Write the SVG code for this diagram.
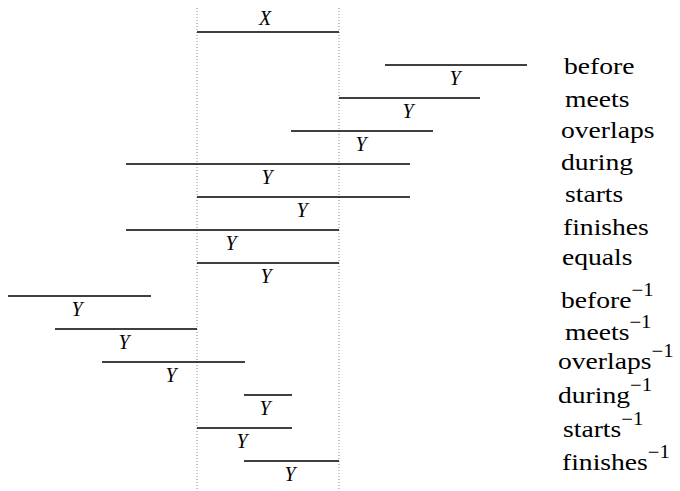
<svg xmlns="http://www.w3.org/2000/svg" width="680" height="491" viewBox="0 0 680 491">
<style>
.guide{stroke:#888;stroke-width:1;stroke-dasharray:1 2;fill:none}
.bar{stroke:#000;stroke-width:1.3;fill:none}
.v{font-family:"Liberation Serif",serif;font-style:italic;font-size:20px;fill:#000;text-anchor:middle}
.lab{font-family:"Liberation Serif",serif;font-size:24px;fill:#000}
.sup{font-size:18px}
</style>
<rect width="680" height="491" fill="#fff"/>
<g id="guides">
<line class="guide" x1="197" y1="8" x2="197" y2="491"/>
<line class="guide" x1="339" y1="8" x2="339" y2="491"/>
</g>
<g id="X"><line class="bar" x1="197" y1="32" x2="339" y2="32"/><text class="v" x="265" y="25">X</text></g>
<g id="before"><line class="bar" x1="385" y1="65" x2="527" y2="65"/><text class="v" x="455" y="85">Y</text><text class="lab" transform="translate(564,74) scale(1.15,1)">before</text></g>
<g id="meets"><line class="bar" x1="339" y1="98" x2="480" y2="98"/><text class="v" x="408" y="118">Y</text><text class="lab" transform="translate(565,107) scale(1.15,1)">meets</text></g>
<g id="overlaps"><line class="bar" x1="291" y1="131" x2="433" y2="131"/><text class="v" x="361" y="151">Y</text><text class="lab" transform="translate(561,138) scale(1.15,1)">overlaps</text></g>
<g id="during"><line class="bar" x1="126" y1="164" x2="410" y2="164"/><text class="v" x="267" y="184">Y</text><text class="lab" transform="translate(561,170) scale(1.15,1)">during</text></g>
<g id="starts"><line class="bar" x1="197" y1="197" x2="410" y2="197"/><text class="v" x="302" y="217">Y</text><text class="lab" transform="translate(565,202) scale(1.15,1)">starts</text></g>
<g id="finishes"><line class="bar" x1="126" y1="230" x2="339" y2="230"/><text class="v" x="231" y="250">Y</text><text class="lab" transform="translate(563,235) scale(1.15,1)">finishes</text></g>
<g id="equals"><line class="bar" x1="197" y1="263" x2="339" y2="263"/><text class="v" x="266" y="283">Y</text><text class="lab" transform="translate(562,265) scale(1.15,1)">equals</text></g>
<g id="before-inv"><line class="bar" x1="8" y1="296" x2="151" y2="296"/><text class="v" x="77" y="316">Y</text><text class="lab" transform="translate(561,308) scale(1.15,1)">before<tspan class="sup" dy="-12">−1</tspan></text></g>
<g id="meets-inv"><line class="bar" x1="55" y1="329" x2="197" y2="329"/><text class="v" x="124" y="349">Y</text><text class="lab" transform="translate(565,340) scale(1.15,1)">meets<tspan class="sup" dy="-12">−1</tspan></text></g>
<g id="overlaps-inv"><line class="bar" x1="102" y1="362" x2="245" y2="362"/><text class="v" x="171" y="382">Y</text><text class="lab" transform="translate(558,369) scale(1.15,1)">overlaps<tspan class="sup" dy="-12">−1</tspan></text></g>
<g id="during-inv"><line class="bar" x1="244" y1="395" x2="292" y2="395"/><text class="v" x="265" y="415">Y</text><text class="lab" transform="translate(558,403) scale(1.15,1)">during<tspan class="sup" dy="-12">−1</tspan></text></g>
<g id="starts-inv"><line class="bar" x1="197" y1="428" x2="292" y2="428"/><text class="v" x="242" y="448">Y</text><text class="lab" transform="translate(563,437) scale(1.15,1)">starts<tspan class="sup" dy="-12">−1</tspan></text></g>
<g id="finishes-inv"><line class="bar" x1="244" y1="461" x2="339" y2="461"/><text class="v" x="290" y="481">Y</text><text class="lab" transform="translate(562,470) scale(1.15,1)">finishes<tspan class="sup" dy="-12">−1</tspan></text></g>
</svg>
